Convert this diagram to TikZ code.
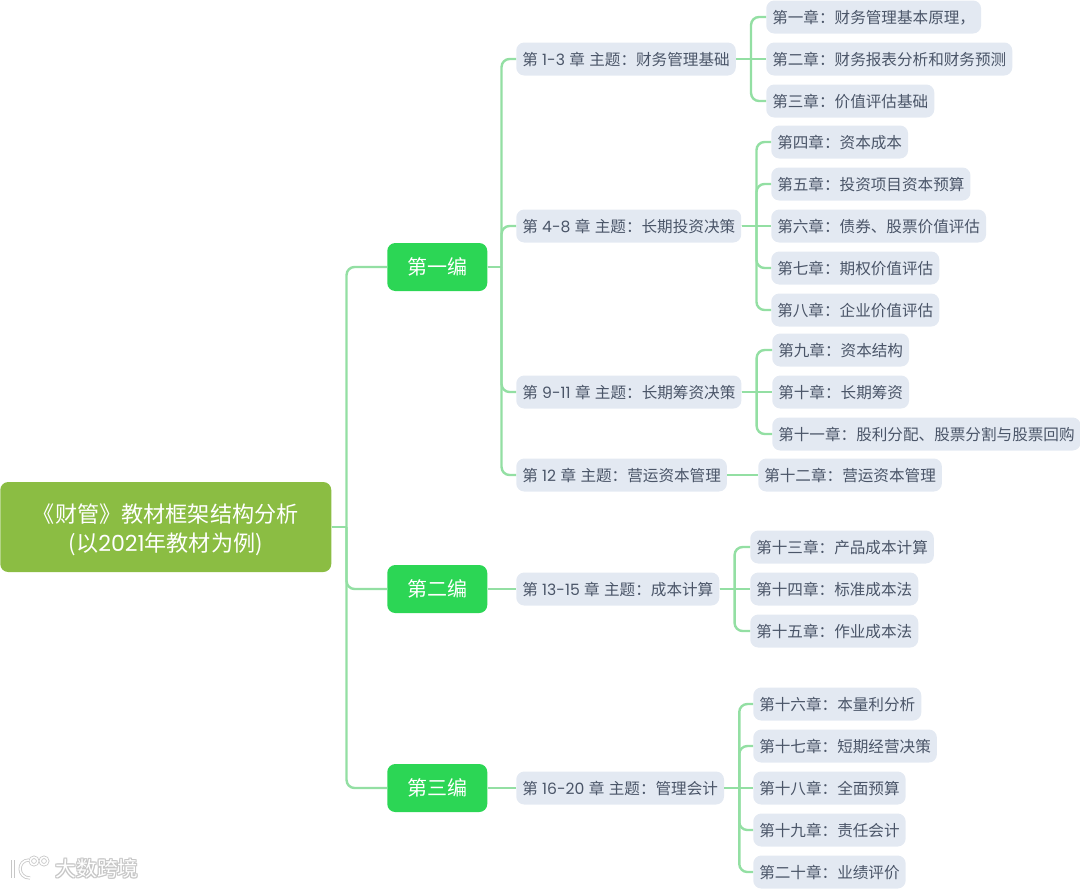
\documentclass[tikz,border=0pt]{standalone}
\usepackage{fontspec}
\setmainfont{Noto Sans CJK SC}[WordSpace=1.25]
\newfontfamily\latfont{Poppins}
\newcommand{\lat}[1]{{\latfont #1}}
\newcommand{\cln}{\symbol{"FF1A}}
\newcommand{\cma}{\symbol{"FF0C}}
\usepackage{tikz}

\definecolor{rootgreen}{HTML}{8BBD43}
\definecolor{partgreen}{HTML}{2CD655}
\definecolor{linkgreen}{HTML}{93DFA3}
\definecolor{leafgrey}{HTML}{E3E9F2}
\definecolor{leaftext}{HTML}{4A5568}

\tikzset{
  rootbox/.style={fill=rootgreen, text=white, rounded corners=6pt, anchor=west, align=center,
    minimum width=248.25pt, minimum height=67.5pt, inner sep=0pt, font=\fontsize{16.6}{21.5}\selectfont},
  partbox/.style={fill=partgreen, text=white, rounded corners=6pt, anchor=west,
    minimum width=75pt, minimum height=36pt, inner sep=0pt, font=\fontsize{15}{18}\selectfont},
  leafbox/.style={fill=leafgrey, text=leaftext, rounded corners=6pt, anchor=west,
    minimum height=24.75pt, inner ysep=0pt, inner xsep=4.5pt, text height=12pt, text depth=2pt,
    font=\fontsize{11.7}{14}\selectfont},
  link/.style={draw=linkgreen, line width=1.8pt},
  bentlink/.style={link, rounded corners=6pt},
}

\begin{document}
\begin{tikzpicture}[x=0.75pt,y=-0.75pt]
\useasboundingbox (0,0) rectangle (1080,889);

% Root and the three parts
\node[rootbox] (root) at (0,527) {\rule{0pt}{18pt}《财管》教材框架结构分析\\(以\lat{2021}年教材为例)};
\node[partbox] (part1) at (387,267) {第一编};
\node[partbox] (part2) at (387,589) {第二编};
\node[partbox] (part3) at (387,788) {第三编};

% Topics
\node[leafbox] (topic1) at (516,59) {第 \lat{1-3} 章 主题\cln 财务管理基础};
\node[leafbox] (topic2) at (516,226) {第 \lat{4-8} 章 主题\cln 长期投资决策};
\node[leafbox] (topic3) at (516,392) {第 \lat{9-11} 章 主题\cln 长期筹资决策};
\node[leafbox] (topic4) at (516,475) {第 \lat{12} 章 主题\cln 营运资本管理};
\node[leafbox] (topic5) at (516,589) {第 \lat{13-15} 章 主题\cln 成本计算};
\node[leafbox] (topic6) at (516,788) {第 \lat{16-20} 章 主题\cln 管理会计};

% Chapters
\foreach \name/\posx/\posy/\txt in {
  ch1/766/17/第一章\cln 财务管理基本原理\cma,
  ch2/766/59/第二章\cln 财务报表分析和财务预测,
  ch3/766/101/第三章\cln 价值评估基础,
  ch4/771/142/第四章\cln 资本成本,
  ch5/771/184/第五章\cln 投资项目资本预算,
  ch6/771/226/第六章\cln 债券、股票价值评估,
  ch7/771/268/第七章\cln 期权价值评估,
  ch8/771/310/第八章\cln 企业价值评估,
  ch9/772/350/第九章\cln 资本结构,
  ch10/772/392/第十章\cln 长期筹资,
  ch11/772/434/第十一章\cln 股利分配、股票分割与股票回购,
  ch12/758/475/第十二章\cln 营运资本管理,
  ch13/750/547/第十三章\cln 产品成本计算,
  ch14/750/589/第十四章\cln 标准成本法,
  ch15/750/631/第十五章\cln 作业成本法,
  ch16/753/704/第十六章\cln 本量利分析,
  ch17/753/746/第十七章\cln 短期经营决策,
  ch18/753/788/第十八章\cln 全面预算,
  ch19/753/830/第十九章\cln 责任会计,
  ch20/753/872/第二十章\cln 业绩评价}
  \node[leafbox] (\name) at (\posx,\posy) {\txt};

% Connectors that turn
\foreach \from/\to/\dx in {
  root/part1/15, root/part2/15, root/part3/15,
  part1/topic1/14, part1/topic2/14, part1/topic3/14, part1/topic4/14,
  topic1/ch1/15, topic1/ch3/15,
  topic2/ch4/15, topic2/ch5/15, topic2/ch7/15, topic2/ch8/15,
  topic3/ch9/15, topic3/ch11/15,
  topic5/ch13/15, topic5/ch15/15,
  topic6/ch16/15, topic6/ch17/15, topic6/ch19/15, topic6/ch20/15}
{
  \coordinate (jn) at ([xshift=\dx*0.75pt]\from.east);
  \draw[link] (\from.east) -- (jn);
  \draw[bentlink] (jn) |- (\to.west);
}

% Straight connectors
\foreach \from/\to in {part2/topic5, part3/topic6, topic1/ch2, topic2/ch6,
  topic3/ch10, topic4/ch12, topic5/ch14, topic6/ch18}
  \draw[link] (\from.east) -- (\to.west);

% Watermark
\foreach \ox/\oy in {-1/0,1/0,0/-1,0/1,1/1,-1/-1,1/-1,-1/1}
  \node[text=black!22, font=\fontsize{15.5}{18}\selectfont, inner sep=0pt] at (97+\ox,869+\oy) {大数跨境};
\node[text=white, font=\fontsize{15.5}{18}\selectfont, inner sep=0pt] (mark) at (97,869) {大数跨境};
\foreach \logocol/\logow in {black!22/2.4pt, white/1.2pt}
{
  \draw[\logocol, line width=\logow] (13,860) -- (13,878);
  \draw[\logocol, line width=\logow] (29,860) .. controls (17,860) and (17,878) .. (30,878);
  \draw[\logocol, line width=\logow] (34,861) circle (3.8);
  \draw[\logocol, line width=\logow] (44,861) circle (3.8);
}

\end{tikzpicture}
\end{document}
